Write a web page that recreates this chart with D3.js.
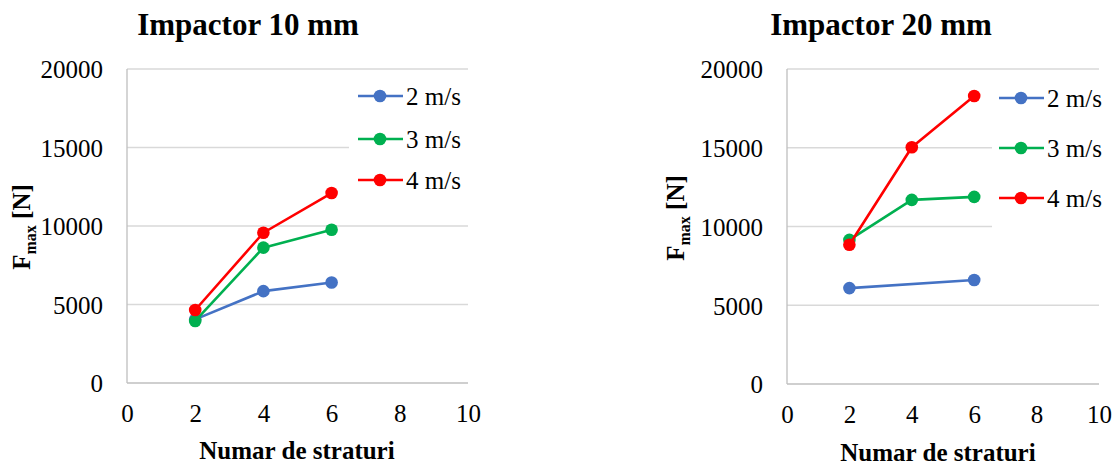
<!DOCTYPE html>
<html><head><meta charset="utf-8">
<script src="https://cdn.jsdelivr.net/npm/d3@7"></script>
<style>body{margin:0;background:#fff}svg{display:block}svg text{font-family:"Liberation Serif","Times New Roman",Times,"DejaVu Serif",serif !important;fill:#000}</style>
</head><body>
<svg id="c" width="1117" height="466"></svg>
<script>
const layers = [2, 4, 6];
const xTicks = [0, 2, 4, 6, 8, 10];
const yTicks = [0, 5000, 10000, 15000, 20000];
const seriesNames = ["2 m/s", "3 m/s", "4 m/s"];
const seriesColors = ["#4472C4", "#00B050", "#FF0000"];
const titles = ["Impactor 10 mm", "Impactor 20 mm"];
const xTitle = "Numar de straturi";
const imp10_2ms = [4050, 5850, 6400];
const imp10_3ms = [3950, 8620, 9760];
const imp10_4ms = [4650, 9570, 12100];
const imp20_2ms = [6090, null, 6600];
const imp20_3ms = [9150, 11690, 11880];
const imp20_4ms = [8840, 15030, 18290];

const svg = d3.select("#c");
const FONT = '"Liberation Serif", "Times New Roman", Times, "DejaVu Serif", serif';

function chart(cfg, series) {
  const g = svg.append("g").attr("font-family", FONT);
  const x = d3.scaleLinear().domain([0, 10]).range([cfg.left, cfg.right]);
  const y = d3.scaleLinear().domain([0, 20000]).range([cfg.bottom, cfg.top]);
  g.selectAll(".grid").data(yTicks.filter(d => d > 0)).enter().append("line")
    .attr("x1", cfg.left).attr("x2", cfg.right)
    .attr("y1", d => y(d)).attr("y2", d => y(d))
    .attr("stroke", "#d9d9d9").attr("stroke-width", 1.3);
  g.append("rect").attr("x", cfg.legX).attr("y", cfg.legY0)
    .attr("width", 1117 - cfg.legX).attr("height", cfg.legH).attr("fill", "#fff");
  g.append("line").attr("x1", cfg.left).attr("x2", cfg.left).attr("y1", cfg.top).attr("y2", cfg.bottom)
    .attr("stroke", "#bfbfbf").attr("stroke-width", 1.3);
  g.append("line").attr("x1", cfg.left).attr("x2", cfg.right).attr("y1", cfg.bottom).attr("y2", cfg.bottom)
    .attr("stroke", "#bfbfbf").attr("stroke-width", 1.3);
  const ya = d3.axisLeft(y).tickValues(yTicks).tickSize(0).tickPadding(0).tickFormat(d3.format("d"));
  const yg = g.append("g").attr("transform", `translate(${cfg.left - 24},0)`).call(ya);
  yg.attr("font-family", FONT).attr("font-size", 25);
  yg.select(".domain").remove();
  yg.selectAll("text").attr("fill", "#000").attr("dy", "0.35em");
  const xa = d3.axisBottom(x).tickValues(xTicks).tickSize(0).tickPadding(0);
  const xg = g.append("g").attr("transform", `translate(0,${cfg.bottom + 26})`).call(xa);
  xg.attr("font-family", FONT).attr("font-size", 25);
  xg.select(".domain").remove();
  xg.selectAll("text").attr("fill", "#000").attr("dy", "0.5em");
  g.append("text").attr("x", cfg.titleX).attr("y", 35).attr("text-anchor", "middle")
    .attr("font-size", 31).attr("font-weight", "bold").text(cfg.title);
  g.append("text").attr("x", cfg.xTitleX).attr("y", cfg.xTitleY).attr("text-anchor", "middle")
    .attr("font-size", 25).attr("font-weight", "bold").text(xTitle);
  const yt = g.append("text").attr("transform", `translate(${cfg.yTitleX},${cfg.yTitleY}) rotate(-90)`)
    .attr("text-anchor", "middle").attr("font-size", 25).attr("font-weight", "bold");
  yt.append("tspan").text("F");
  yt.append("tspan").attr("dy", 6).attr("font-size", 16).text("max");
  yt.append("tspan").attr("dy", -6).text(" [N]");
  const line = d3.line().x(d => x(d.l)).y(d => y(d.v));
  series.forEach((vals, i) => {
    const pts = layers.map((l, j) => ({ l, v: vals[j] })).filter(d => d.v != null);
    g.append("path").datum(pts).attr("d", line).attr("fill", "none")
      .attr("stroke", seriesColors[i]).attr("stroke-width", 2.6).attr("stroke-linejoin", "round");
    g.selectAll(null).data(pts).enter().append("circle")
      .attr("cx", d => x(d.l)).attr("cy", d => y(d.v)).attr("r", 6.3).attr("fill", seriesColors[i]);
  });
  seriesNames.forEach((n, i) => {
    const ly = cfg.legRows[i];
    g.append("line").attr("x1", cfg.legLineX).attr("x2", cfg.legLineX + 45).attr("y1", ly).attr("y2", ly)
      .attr("stroke", seriesColors[i]).attr("stroke-width", 2.6);
    g.append("circle").attr("cx", cfg.legLineX + 22).attr("cy", ly).attr("r", 6.3).attr("fill", seriesColors[i]);
    g.append("text").attr("x", cfg.legLineX + 48).attr("y", ly).attr("dy", "0.35em")
      .attr("font-size", 25).text(n);
  });
}

chart({left: 127, right: 468, top: 69, bottom: 383, title: titles[0], titleX: 248,
  xTitleX: 297, xTitleY: 459, yTitleX: 30, yTitleY: 227,
  legX: 349, legY0: 75, legH: 125, legLineX: 358, legRows: [96, 139, 180]},
  [imp10_2ms, imp10_3ms, imp10_4ms]);
chart({left: 787, right: 1099, top: 69, bottom: 384, title: titles[1], titleX: 881,
  xTitleX: 938, xTitleY: 461, yTitleX: 684, yTitleY: 218,
  legX: 992, legY0: 75, legH: 160, legLineX: 999, legRows: [98, 148, 198]},
  [imp20_2ms, imp20_3ms, imp20_4ms]);
</script>
</body></html>
